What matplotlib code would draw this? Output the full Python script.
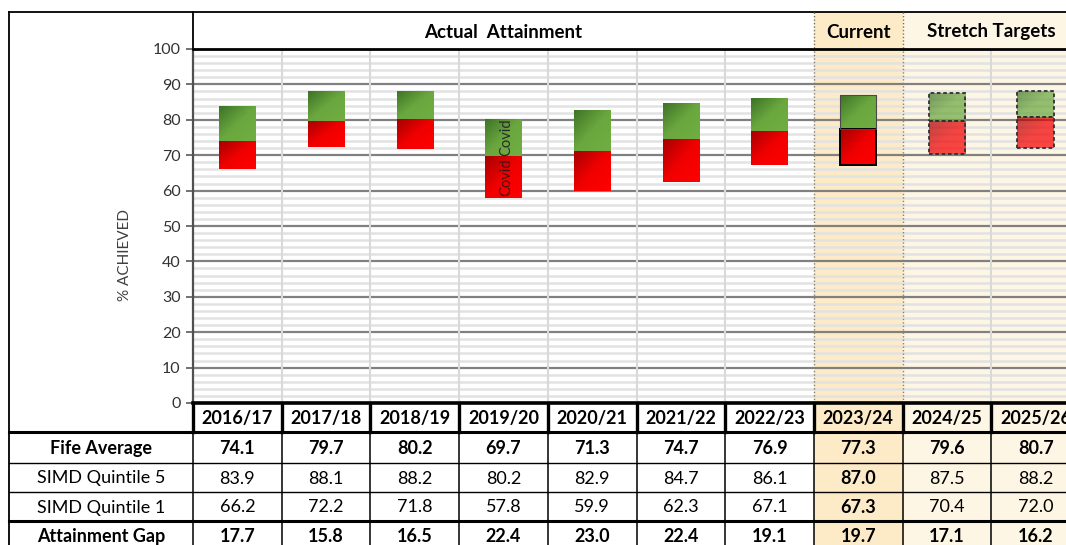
import numpy as np
import matplotlib
matplotlib.use("Agg")
from matplotlib import pyplot as plt
from matplotlib.colors import LinearSegmentedColormap
from matplotlib.patches import Rectangle

plt.rcParams['font.family'] = ['Lato', 'DejaVu Sans']

years = ['2016/17', '2017/18', '2018/19', '2019/20', '2020/21', '2021/22',
         '2022/23', '2023/24', '2024/25', '2025/26']
fife_avg = [74.1, 79.7, 80.2, 69.7, 71.3, 74.7, 76.9, 77.3, 79.6, 80.7]
simd_q5 = [83.9, 88.1, 88.2, 80.2, 82.9, 84.7, 86.1, 87.0, 87.5, 88.2]
simd_q1 = [66.2, 72.2, 71.8, 57.8, 59.9, 62.3, 67.1, 67.3, 70.4, 72.0]
att_gap = [17.7, 15.8, 16.5, 22.4, 23.0, 22.4, 19.1, 19.7, 17.1, 16.2]
row_labels = ['Fife Average', 'SIMD Quintile 5', 'SIMD Quintile 1', 'Attainment Gap']
covid_year = '2019/20'
current_idx = 7          # 2023/24
stretch_idx = [8, 9]     # stretch targets

W, H = 1066, 545
x0_px, col_w = 193, 88.7
left_px = 9
top_px, plot_top, plot_bot = 12, 49, 403
row_edges = [403, 432, 463, 492, 521, 550]

CUR_BG = '#FDEBC8'
STR_BG = '#FEF6E5'
TFS = 13

fig = plt.figure(figsize=(W / 100, H / 100), dpi=100)

# background axes in pixel coordinates: header, table, frame
bg = fig.add_axes([0, 0, 1, 1])
bg.set_xlim(0, W)
bg.set_ylim(H, 0)
bg.axis('off')
bg.set_zorder(0)

def col_x(i):
    return x0_px + col_w * i

# shading header + table
bg.add_patch(Rectangle((col_x(current_idx), top_px), col_w, plot_top - top_px, fc=CUR_BG, ec='none'))
bg.add_patch(Rectangle((col_x(stretch_idx[0]), top_px), W - col_x(stretch_idx[0]), plot_top - top_px, fc=STR_BG, ec='none'))
bg.add_patch(Rectangle((col_x(current_idx), row_edges[0]), col_w, H - row_edges[0], fc=CUR_BG, ec='none'))
bg.add_patch(Rectangle((col_x(stretch_idx[0]), row_edges[0]), W - col_x(stretch_idx[0]), H - row_edges[0], fc=STR_BG, ec='none'))

# frame lines
bg.plot([left_px, W], [top_px, top_px], color='black', lw=1.3)
bg.plot([left_px, left_px], [top_px, H], color='black', lw=1.3)
bg.plot([x0_px, x0_px], [top_px, plot_top], color='black', lw=1.3)
for xi in [col_x(current_idx), col_x(stretch_idx[0])]:
    bg.plot([xi, xi], [top_px, plot_top], color='#707070', lw=1, ls=(0, (1, 1.5)))

# table lines
bg.plot([left_px, W], [row_edges[1], row_edges[1]], color='black', lw=2.2)
bg.plot([left_px, W], [row_edges[2], row_edges[2]], color='black', lw=1)
bg.plot([left_px, W], [row_edges[3], row_edges[3]], color='black', lw=1)
bg.plot([left_px, W], [row_edges[4], row_edges[4]], color='black', lw=2.2)
for i in range(11):
    xi = col_x(i)
    bg.plot([xi, xi], [row_edges[0], row_edges[1]], color='black', lw=2.4)
    bg.plot([xi, xi], [row_edges[1], H], color='black', lw=1.1)

# header texts
bg.text((col_x(0) + col_x(current_idx)) / 2, 32, 'Actual  Attainment', ha='center', va='center',
        fontsize=13.5, fontweight='bold')
bg.text(col_x(current_idx) + col_w / 2, 32, 'Current', ha='center', va='center',
        fontsize=13.5, fontweight='bold')
bg.text(col_x(stretch_idx[0]) + col_w, 32, 'Stretch Targets', ha='center', va='center',
        fontsize=13.5, fontweight='bold')

# table texts
row_mid = [(row_edges[k] + row_edges[k + 1]) / 2 for k in range(5)]
for i, yr in enumerate(years):
    cx = col_x(i) + col_w / 2
    bg.text(cx, row_mid[0] + 1, yr, ha='center', va='center', fontsize=TFS, fontweight='bold')
    bg.text(cx, row_mid[1] + 1, f'{fife_avg[i]:.1f}', ha='center', va='center', fontsize=TFS, fontweight='bold')
    w = 'bold' if i == current_idx else 'normal'
    bg.text(cx, row_mid[2] + 1, f'{simd_q5[i]:.1f}', ha='center', va='center', fontsize=TFS, fontweight=w)
    bg.text(cx, row_mid[3] + 1, f'{simd_q1[i]:.1f}', ha='center', va='center', fontsize=TFS, fontweight=w)
    bg.text(cx, row_mid[4] + 1, f'{att_gap[i]:.1f}', ha='center', va='center', fontsize=TFS, fontweight='bold')

lab_x = (left_px + x0_px) / 2
for k, lab in enumerate(row_labels):
    w = 'bold' if k in (0, 3) else 'normal'
    bg.text(lab_x, row_mid[k + 1] + 1, lab, ha='center', va='center', fontsize=TFS, fontweight=w)

bg.text(125, 255, '% ACHIEVED', ha='center', va='center', rotation=90, fontsize=11, color='#404040')

# main plot axes
ax = fig.add_axes([x0_px / W, (H - plot_bot) / H, (W - x0_px) / W, (plot_bot - plot_top) / H])
ax.set_zorder(1)
ax.set_facecolor('none')
x = np.arange(len(years))
xmax = -0.5 + (W - x0_px) / col_w
ax.set_xlim(-0.5, xmax)
ax.set_ylim(0, 100)

ax.axvspan(current_idx - 0.5, current_idx + 0.5, color=CUR_BG, zorder=0, lw=0)
ax.axvspan(stretch_idx[0] - 0.5, xmax, color=STR_BG, zorder=0, lw=0)

ax.set_yticks(np.arange(0, 101, 10))
ax.set_yticks(np.arange(0, 101, 2), minor=True)
ax.grid(which='minor', axis='y', color='#e2e2e2', lw=1.8, zorder=0.5)
ax.grid(which='major', axis='y', color='#808080', lw=1.6, zorder=0.6)
ax.set_axisbelow(True)
ax.tick_params(axis='y', which='minor', length=0)
ax.tick_params(axis='y', which='major', length=5, width=1.2, color='#595959',
               labelsize=11.5, labelcolor='#333333', pad=4)
ax.tick_params(axis='x', length=0, labelbottom=False)

for i in range(1, len(years)):
    xe = i - 0.5
    if i in (current_idx, stretch_idx[0]):
        ax.axvline(xe, color='#808080', lw=1, ls=(0, (1, 1.5)), zorder=0.7)
    else:
        ax.axvline(xe, color='#d9d9d9', lw=1.5, zorder=0.7)

ax.spines['right'].set_visible(False)
ax.spines['left'].set_color('#505050')
ax.spines['left'].set_linewidth(1.6)
ax.spines['top'].set_color('black')
ax.spines['top'].set_linewidth(2)
ax.spines['bottom'].set_color('black')
ax.spines['bottom'].set_linewidth(2.6)

green_cm = LinearSegmentedColormap.from_list('g', ['#70ad42', '#6aa73e', '#3d7326'])
red_cm = LinearSegmentedColormap.from_list('r', ['#ff0000', '#f00000', '#a50000'])
gx, gy = np.meshgrid(np.linspace(0, 1, 40), np.linspace(0, 1, 40))
grad = ((1 - gx) + gy) / 2

def shade(patch, cmap, alpha=1.0):
    px, py = patch.get_xy()
    im = ax.imshow(grad, extent=[px, px + patch.get_width(), py, py + patch.get_height()],
                   origin='lower', cmap=cmap, aspect='auto', interpolation='bilinear',
                   alpha=alpha, zorder=3)
    im.set_clip_path(patch)

bw = 0.41
q1 = np.array(simd_q1)
fa = np.array(fife_avg)
q5 = np.array(simd_q5)
red_bars = ax.bar(x, fa - q1, bottom=q1, width=bw, fc='none', ec='none', zorder=4)
green_bars = ax.bar(x, q5 - fa, bottom=fa, width=bw, fc='none', ec='none', zorder=4)

for i in range(len(years)):
    alpha = 0.72 if i in stretch_idx else 1.0
    shade(red_bars[i], red_cm, alpha)
    shade(green_bars[i], green_cm, alpha)
    if i == current_idx:
        green_bars[i].set_edgecolor('#4a4a4a')
        green_bars[i].set_linewidth(0.8)
        red_bars[i].set_edgecolor('black')
        red_bars[i].set_linewidth(1.4)
    elif i in stretch_idx:
        for b in (red_bars[i], green_bars[i]):
            b.set_edgecolor('#303030')
            b.set_linewidth(1.3)
            b.set_linestyle((0, (2, 1.5)))

ax.set_xlim(-0.5, xmax)
ax.set_ylim(0, 100)

ci = years.index(covid_year)
ax.text(ci + 0.03, (simd_q1[ci] + fife_avg[ci]) / 2, 'Covid', rotation=90, ha='center',
        va='center', fontsize=10.5, color='#4a1010', zorder=5)
ax.text(ci + 0.03, (fife_avg[ci] + simd_q5[ci]) / 2, 'Covid', rotation=90, ha='center',
        va='center', fontsize=10.5, color='#2a2a2a', zorder=5)

fig.savefig('out.png', dpi=100)
